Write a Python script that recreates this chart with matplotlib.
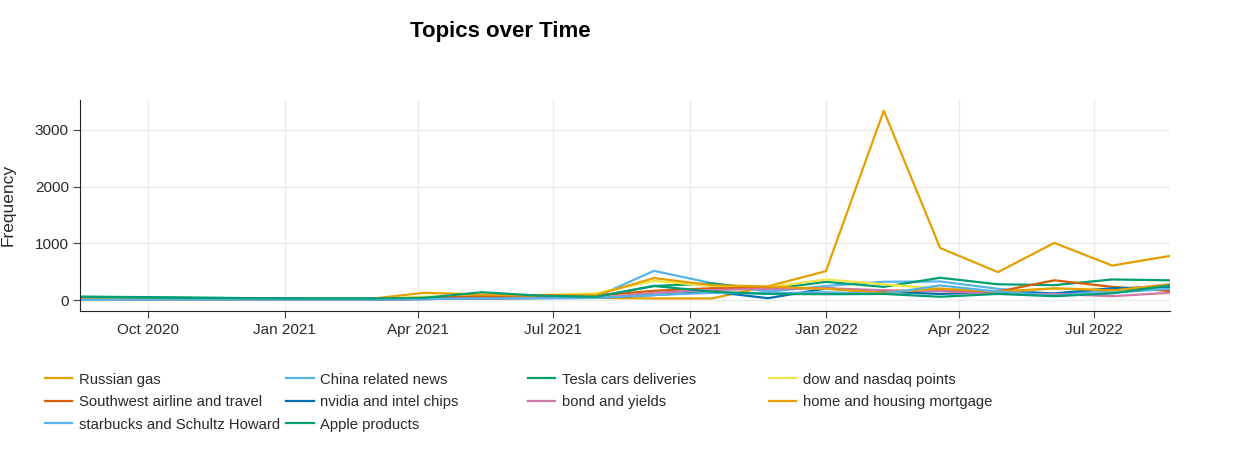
import numpy as np
import pandas as pd
import matplotlib
matplotlib.use("Agg")
from matplotlib import pyplot as plt
import matplotlib.dates as mdates

plt.rcParams['font.family'] = ['Liberation Sans', 'DejaVu Sans']

dates = pd.to_datetime([
    "2020-08-16", "2020-09-24", "2020-11-01", "2020-12-10", "2021-01-17",
    "2021-02-25", "2021-04-05", "2021-05-14", "2021-06-21", "2021-07-30",
    "2021-09-07", "2021-10-16", "2021-11-23", "2022-01-01", "2022-02-09",
    "2022-03-19", "2022-04-27", "2022-06-04", "2022-07-13", "2022-08-21"])

russian_gas = [20, 15, 10, 10, 10, 10, 20, 30, 40, 40, 30, 30, 245, 512, 3340, 920, 495, 1010, 610, 780]
china_news = [20, 20, 15, 15, 15, 15, 20, 30, 40, 60, 517, 300, 150, 250, 325, 330, 200, 110, 170, 280]
tesla = [60, 55, 45, 35, 30, 30, 40, 80, 70, 60, 250, 295, 190, 323, 235, 395, 280, 265, 365, 350]
dow_nasdaq = [20, 20, 15, 15, 15, 15, 60, 80, 90, 120, 340, 250, 230, 365, 280, 200, 150, 200, 200, 250]
southwest = [20, 20, 15, 15, 15, 15, 40, 70, 90, 80, 165, 210, 210, 210, 130, 175, 150, 350, 235, 160]
nvidia = [20, 20, 15, 15, 10, 10, 20, 30, 40, 40, 90, 150, 35, 205, 150, 110, 140, 120, 210, 230]
bonds = [10, 10, 10, 10, 10, 10, 20, 30, 40, 40, 130, 180, 200, 210, 175, 160, 110, 110, 70, 130]
housing = [20, 15, 15, 15, 15, 15, 130, 100, 80, 90, 390, 265, 240, 200, 130, 205, 150, 210, 170, 280]
starbucks = [10, 10, 10, 10, 10, 10, 20, 30, 30, 40, 90, 130, 120, 140, 110, 260, 150, 80, 130, 200]
apple = [60, 50, 40, 35, 30, 30, 40, 140, 80, 60, 250, 150, 110, 105, 110, 60, 110, 70, 120, 260]

topics = ["Russian gas", "China related news", "Tesla cars deliveries", "dow and nasdaq points",
          "Southwest airline and travel", "nvidia and intel chips", "bond and yields",
          "home and housing mortgage", "starbucks and Schultz Howard", "Apple products"]
series = [russian_gas, china_news, tesla, dow_nasdaq, southwest, nvidia, bonds,
          housing, starbucks, apple]
colors = ["#E69F00", "#56B4E9", "#009E73", "#F0E442", "#D55E00", "#0072B2",
          "#CC79A7", "#E69F00", "#56B4E9", "#009E73"]

fig = plt.figure(figsize=(12.5, 4.5), dpi=100)
ax = fig.add_axes([0.064, 0.309, 0.872, 0.469])

handles = {}
for name, vals, c in zip(topics, series, colors):
    line, = ax.plot(dates, vals, color=c, lw=1.6, label=name)
    handles[name] = line

ax.set_xlim(dates[0], dates[-1])
ax.set_ylim(-190, 3530)
ax.set_yticks([0, 1000, 2000, 3000])
ax.xaxis.set_major_locator(mdates.MonthLocator(bymonth=[1, 4, 7, 10]))
ax.xaxis.set_major_formatter(mdates.DateFormatter('%b %Y'))
ax.grid(True, color='#ebebeb', lw=1)
ax.set_axisbelow(True)
for s in ['top', 'right']:
    ax.spines[s].set_visible(False)
for s in ['left', 'bottom']:
    ax.spines[s].set_color('#222222')
ax.tick_params(axis='both', labelsize=11, color='#444444', length=5, direction='out')
ax.tick_params(axis='y', pad=3)
for lbl in ax.get_xticklabels() + ax.get_yticklabels():
    lbl.set_color('#2a2a2a')
ax.set_ylabel('Frequency', fontsize=12.5, color='#2a2a2a', labelpad=14)

fig.text(0.40, 0.93, 'Topics over Time', fontsize=16, fontweight='bold',
         ha='center', va='center', color='black')

columns = [["Russian gas", "Southwest airline and travel", "starbucks and Schultz Howard"],
           ["China related news", "nvidia and intel chips", "Apple products"],
           ["Tesla cars deliveries", "bond and yields"],
           ["dow and nasdaq points", "home and housing mortgage"]]
col_x = [0.036, 0.229, 0.422, 0.615]
for cx, col in zip(col_x, columns):
    leg = fig.legend([handles[n] for n in col], col, loc='upper left',
                     bbox_to_anchor=(cx, 0.172), frameon=False, fontsize=10.7,
                     handlelength=1.85, handletextpad=0.45, labelspacing=0.57,
                     borderaxespad=0, borderpad=0)
    for t in leg.get_texts():
        t.set_color('#2a2a2a')

fig.savefig('out.png', dpi=100)
